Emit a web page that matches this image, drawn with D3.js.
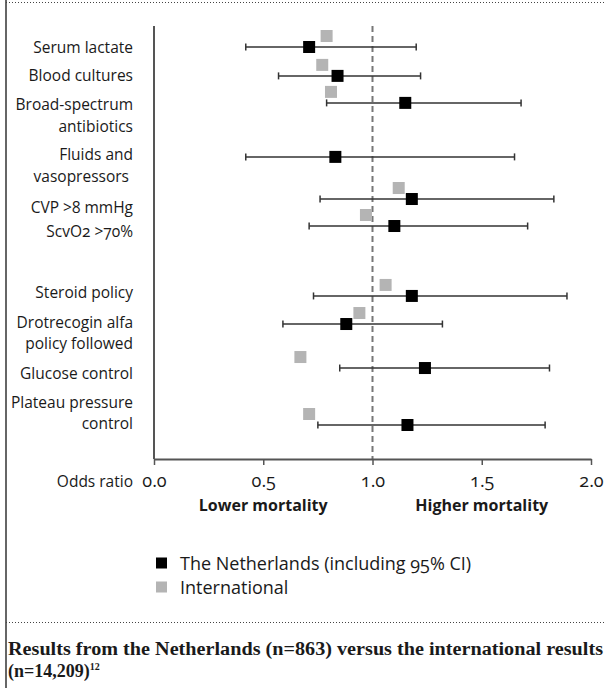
<!doctype html>
<html>
<head>
  <meta charset="utf-8">
  <script src="https://d3js.org/d3.v7.min.js"></script>
  <style>
    body { margin: 0; background: #fff; }
    text { font-family: "Open Sans", "Noto Sans", sans-serif; fill: #1a1a1a; }
  </style>
</head>
<body>
  <script>

    // categories (label lines)
    var categories = [
      ["Serum lactate"],
      ["Blood cultures"],
      ["Broad-spectrum", "antibiotics"],
      ["Fluids and", "vasopressors\u00a0"],
      ["CVP >8 mmHg"],
      ["ScvO2 >70%"],
      ["Steroid policy"],
      ["Drotrecogin alfa", "policy followed"],
      ["Glucose control"],
      ["Plateau pressure", "control"]
    ];

    // The Netherlands: odds ratio and 95% CI
    var nlOR   = [0.71, 0.84, 1.15, 0.83, 1.18, 1.10, 1.18, 0.88, 1.24, 1.16];
    var nlLow  = [0.42, 0.57, 0.79, 0.42, 0.76, 0.71, 0.73, 0.59, 0.85, 0.75];
    var nlHigh = [1.20, 1.22, 1.68, 1.65, 1.83, 1.71, 1.89, 1.32, 1.81, 1.79];

    // International odds ratio (none for fluids and vasopressors)
    var intlOR = [0.79, 0.77, 0.81, null, 1.12, 0.97, 1.06, 0.94, 0.67, 0.71];

    var xTicks = [0, 0.5, 1, 1.5, 2];
    var legendLabels = ["The Netherlands (including 95% CI)", "International"];

    // layout: vertical slot of each row and shift of its label
    var rowSlot = [0, 1.07, 2.07, 4.07, 5.63, 6.63, 9.22, 10.26, 11.89, 14];
    var labelShift = [0, 0, 2, -2, 8, 5, -3, -2, 5, -23];

    var W = 606, H = 688;
    var oldstyle = function (sel) {
      sel.style("font-variant-numeric", "oldstyle-nums")
         .style("font-feature-settings", "'onum' 1");
    };

    var svg = d3.select("body").append("svg")
        .attr("width", W)
        .attr("height", H);

    // frame
    svg.append("line")
        .attr("x1", 6).attr("x2", 6).attr("y1", 0).attr("y2", H)
        .attr("stroke", "#666").attr("stroke-width", 2);
    svg.append("line")
        .attr("x1", 6).attr("x2", W).attr("y1", 2.5).attr("y2", 2.5)
        .attr("stroke", "#444").attr("stroke-width", 1).attr("stroke-dasharray", "1,2");
    svg.append("line")
        .attr("x1", 6).attr("x2", W).attr("y1", 622.5).attr("y2", 622.5)
        .attr("stroke", "#444").attr("stroke-width", 1).attr("stroke-dasharray", "1,2");

    // scales
    var x = d3.scaleLinear().domain([0, 2]).range([154, 591]);
    var y = d3.scaleLinear().domain([0, 14]).range([47, 425]);
    var baseY = 459;

    // left axis line and dashed reference line
    svg.append("line")
        .attr("x1", x(0)).attr("x2", x(0)).attr("y1", 26).attr("y2", baseY)
        .attr("stroke", "#555").attr("stroke-width", 2);
    svg.append("line")
        .attr("x1", x(1)).attr("x2", x(1)).attr("y1", 26).attr("y2", baseY)
        .attr("stroke", "#777").attr("stroke-width", 2).attr("stroke-dasharray", "6,4");

    // x axis
    var axis = svg.append("g")
        .attr("transform", "translate(0," + baseY + ")")
        .call(d3.axisBottom(x).tickValues(xTicks).tickSize(6).tickSizeOuter(0)
            .tickFormat(d3.format(".1f")));
    axis.attr("font-family", null).attr("font-size", null);
    axis.select(".domain").attr("stroke", "#555").attr("stroke-width", 2);
    axis.selectAll(".tick line").attr("stroke", "#555").attr("stroke-width", 1.5);
    axis.selectAll(".tick text")
        .attr("y", 28).attr("dy", null)
        .style("font-size", "18px")
        .style("fill", "#1a1a1a")
        .call(oldstyle);

    svg.append("text")
        .attr("x", 133).attr("y", 487)
        .attr("text-anchor", "end")
        .style("font-size", "15.5px")
        .text("Odds ratio");

    svg.append("text")
        .attr("x", x(0.5)).attr("y", 511)
        .attr("text-anchor", "middle")
        .style("font-size", "16px").style("font-weight", "bold")
        .text("Lower mortality");
    svg.append("text")
        .attr("x", x(1.5)).attr("y", 511)
        .attr("text-anchor", "middle")
        .style("font-size", "16px").style("font-weight", "bold")
        .text("Higher mortality");

    // rows
    var rows = svg.selectAll(".row")
        .data(categories)
        .enter()
        .append("g")
        .attr("class", "row")
        .attr("transform", function (d, i) { return "translate(0," + y(rowSlot[i]) + ")"; });

    rows.append("text")
        .attr("text-anchor", "end")
        .style("font-size", "15.5px")
        .call(oldstyle)
        .each(function (d, i) {
          var t = d3.select(this);
          d.forEach(function (line, k) {
            t.append("tspan")
              .attr("x", 133)
              .attr("y", labelShift[i] + k * 21.5 + 5.5)
              .text(line);
          });
        });

    // CI lines
    rows.append("line")
        .attr("x1", function (d, i) { return x(nlLow[i]); })
        .attr("x2", function (d, i) { return x(nlHigh[i]); })
        .attr("stroke", "#333").attr("stroke-width", 1.5);
    rows.append("line")
        .attr("x1", function (d, i) { return x(nlLow[i]); })
        .attr("x2", function (d, i) { return x(nlLow[i]); })
        .attr("y1", -3.5).attr("y2", 3.5)
        .attr("stroke", "#333").attr("stroke-width", 1.5);
    rows.append("line")
        .attr("x1", function (d, i) { return x(nlHigh[i]); })
        .attr("x2", function (d, i) { return x(nlHigh[i]); })
        .attr("y1", -3.5).attr("y2", 3.5)
        .attr("stroke", "#333").attr("stroke-width", 1.5);

    // international squares
    rows.filter(function (d, i) { return intlOR[i] !== null; })
        .append("rect")
        .attr("x", function (d) { return x(intlOR[categories.indexOf(d)]) - 6; })
        .attr("y", -17)
        .attr("width", 12).attr("height", 12)
        .attr("fill", "#b4b4b4");

    // Netherlands squares
    rows.append("rect")
        .attr("x", function (d, i) { return x(nlOR[i]) - 6; })
        .attr("y", -6)
        .attr("width", 12).attr("height", 12)
        .attr("fill", "#000");

    // legend
    var legend = svg.selectAll(".legend")
        .data(legendLabels)
        .enter()
        .append("g")
        .attr("class", "legend")
        .attr("transform", function (d, i) { return "translate(156," + (563 + i * 24) + ")"; });
    legend.append("rect")
        .attr("x", 0).attr("y", -5.5)
        .attr("width", 11).attr("height", 11)
        .attr("fill", function (d, i) { return i === 0 ? "#000" : "#b4b4b4"; });
    legend.append("text")
        .attr("x", 24).attr("y", 6.5)
        .style("font-size", "18px")
        .call(oldstyle)
        .text(function (d) { return d; });

    // caption
    svg.append("text")
        .attr("x", 8).attr("y", 655)
        .attr("textLength", 595).attr("lengthAdjust", "spacingAndGlyphs")
        .style("font-family", "'Liberation Serif', serif")
        .style("font-size", "18px").style("font-weight", "bold")
        .text("Results from the Netherlands (n=863) versus the international results");
    var cap2 = svg.append("text")
        .attr("x", 8).attr("y", 677)
        .style("font-family", "'Liberation Serif', serif")
        .style("font-size", "18px").style("font-weight", "bold");
    cap2.append("tspan").text("(n=14,209)");
    cap2.append("tspan").attr("dy", -7).style("font-size", "10px").text("12");

  </script>
</body>
</html>
